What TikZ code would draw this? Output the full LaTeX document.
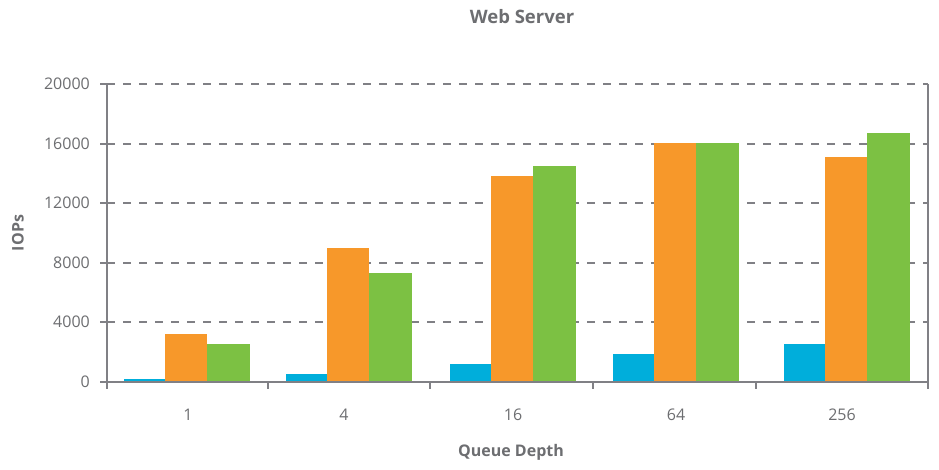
\documentclass[tikz,border=0pt]{standalone}
\usepackage{fontspec}
\setmainfont{Open Sans}
\definecolor{txt}{HTML}{6D6E71}
\definecolor{axc}{HTML}{808085}
\definecolor{cblue}{HTML}{00AEDB}
\definecolor{corange}{HTML}{F7982A}
\definecolor{cgreen}{HTML}{7CC143}
\tikzset{
  grid line/.style={draw=axc, line width=2pt, dash pattern=on 8pt off 8pt},
  axis line/.style={draw=axc, line width=2pt},
  ylab/.style={anchor=east, inner sep=0pt, text=txt, font=\fontsize{16}{18}\selectfont},
  xlab/.style={inner sep=0pt, text=txt, font=\fontsize{16}{18}\selectfont},
  ttl/.style={inner sep=0pt, text=txt, font=\fontsize{16}{18}\selectfont\bfseries},
  barA/.style={fill=cblue},
  barB/.style={fill=corange},
  barC/.style={fill=cgreen},
}
\begin{document}
\begin{tikzpicture}[x=1pt,y=-1pt]
\useasboundingbox[fill=white] (0,0) rectangle (939,470);
% gridlines
\foreach \yy in {84,144,203,263,322}{
  \path[grid line] (107,\yy) -- (928,\yy);
}
% bars (drawn down to the axis line's upper edge)
\def\bars#1#2#3#4{%
  \fill[barA] (#1,381) rectangle ++(41,-#2);
  \fill[barB] ({#1+41},381) rectangle ++(42,-#3);
  \fill[barC] ({#1+83},381) rectangle ++(43,-#4);
}
\bars{124}{2}{47}{37}
\bars{286}{7}{133}{108}
\bars{450}{17}{205}{215}
\bars{613}{27}{238}{238}
\bars{784}{37}{224}{248}
% axes
\path[axis line] (107,84) -- (107,389);
\path[axis line] (928,84) -- (928,389);
\path[axis line] (107,382) -- (928,382);
\foreach \yy in {84,144,203,263,322,382}{
  \path[axis line] (100,\yy) -- (107,\yy);
}
\foreach \xx in {268,430,593,756}{
  \path[axis line] (\xx,382) -- (\xx,389);
}
% y labels
\node[ylab] (y0) at (90,382) {0};
\node[ylab] (y1) at (90,322) {4000};
\node[ylab] (y2) at (90,263) {8000};
\node[ylab] (y3) at (90,203) {12000};
\node[ylab] (y4) at (90,144) {16000};
\node[ylab] (y5) at (90,84) {20000};
% x labels
\node[xlab] (x1) at (188,415) {1};
\node[xlab] (x2) at (344,415) {4};
\node[xlab] (x3) at (513,415) {16};
\node[xlab] (x4) at (676,415) {64};
\node[xlab] (x5) at (842,415) {256};
% titles
\node[ttl, font=\fontsize{18.5}{20}\selectfont\bfseries] (title) at (522,17) {Web Server};
\node[ttl] (ytitle) [rotate=90] at (18,233) {IOPs};
\node[ttl] (xtitle) at (511,452) {Queue Depth};
\end{tikzpicture}
\end{document}
